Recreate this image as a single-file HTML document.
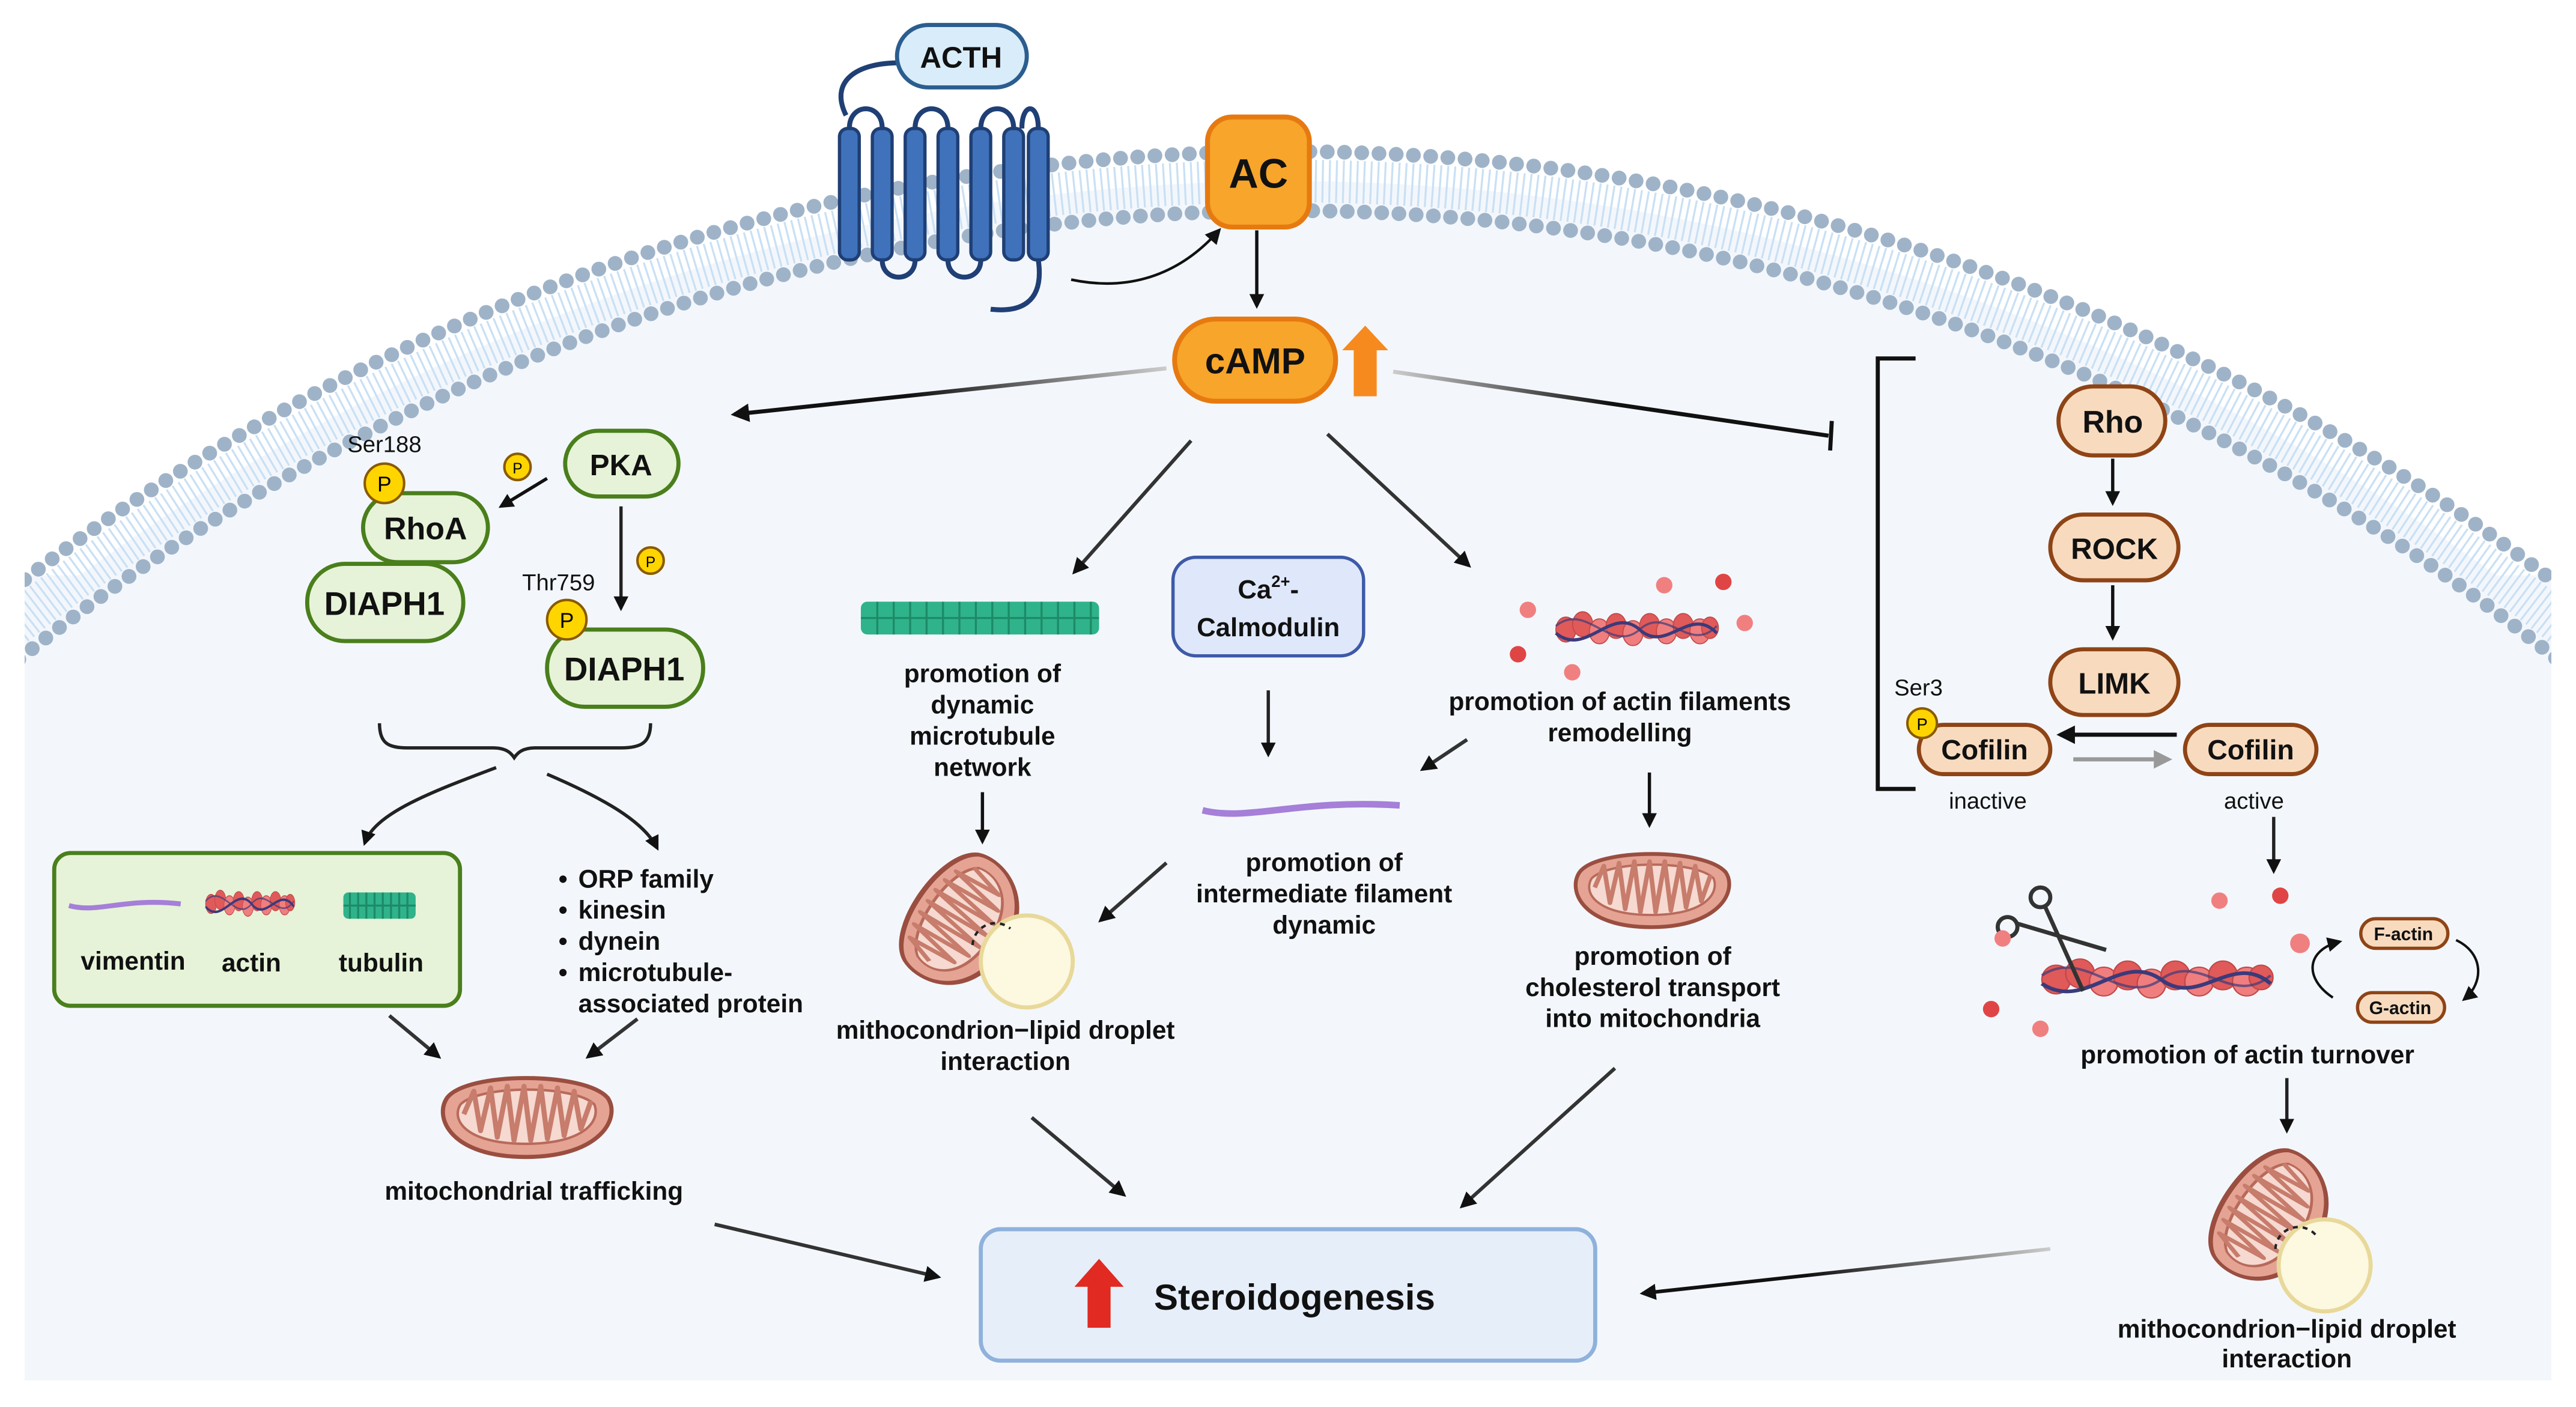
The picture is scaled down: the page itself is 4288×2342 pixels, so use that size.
<!DOCTYPE html>
<html><head><meta charset="utf-8"><style>
html,body{margin:0;padding:0;background:#fff;width:4288px;height:2342px;overflow:hidden;}
svg{display:block;}
text{font-family:"Liberation Sans",Arial,sans-serif;}
.b{font-weight:bold;fill:#111;}
</style></head><body>
<svg width="4288" height="2342" viewBox="0 0 1568 856" xmlns="http://www.w3.org/2000/svg">
<defs>
<clipPath id="cl"><rect x="15" y="0" width="1538" height="840"/></clipPath>
<marker id="ah" viewBox="0 0 10 10" refX="8" refY="5" markerWidth="4.5" markerHeight="4.5" orient="auto-start-reverse"><path d="M0,0 L10,5 L0,10 z" fill="#111"/></marker>
<marker id="ahg" viewBox="0 0 10 10" refX="8" refY="5" markerWidth="4.5" markerHeight="4.5" orient="auto"><path d="M0,0 L10,5 L0,10 z" fill="#999"/></marker>
<marker id="ahs" viewBox="0 0 10 10" refX="8" refY="5" markerWidth="6" markerHeight="6" orient="auto"><path d="M0,0 L10,5 L0,10 z" fill="#111"/></marker>
<symbol id="mito" viewBox="0 0 110 56" preserveAspectRatio="none">
<path d="M8,18 C20,2 90,2 104,18 C112,30 100,54 55,54 C10,54 0,30 8,18z" fill="#e5a394" stroke="#9a4e40" stroke-width="2.5"/>
<path d="M16,22 C28,10 84,10 96,22 C100,32 90,46 55,46 C20,46 10,32 16,22z" fill="#f6d9d0" stroke="#b86a5a" stroke-width="1.5"/>
<path d="M18,28 L24,14 L28,38 L34,12 L38,42 L44,11 L48,44 L54,11 L58,44 L64,11 L68,43 L74,12 L78,41 L84,14 L88,37 L94,20" fill="none" stroke="#c77c6c" stroke-width="3" stroke-linejoin="round"/>
</symbol>
<symbol id="actin" viewBox="0 0 100 24" preserveAspectRatio="none">
<g fill="#e05a5a" stroke="#c24848" stroke-width="0.6">
<ellipse cx="8" cy="12" rx="6" ry="7"/><ellipse cx="18" cy="9" rx="6" ry="7"/><ellipse cx="28" cy="13" rx="6" ry="7" fill="#f07e7e"/><ellipse cx="38" cy="10" rx="6" ry="7"/><ellipse cx="48" cy="14" rx="6" ry="7" fill="#f07e7e"/><ellipse cx="58" cy="10" rx="6" ry="7"/><ellipse cx="68" cy="13" rx="6" ry="7" fill="#f07e7e"/><ellipse cx="78" cy="10" rx="6" ry="7"/><ellipse cx="88" cy="13" rx="6" ry="7" fill="#f07e7e"/><ellipse cx="94" cy="11" rx="5" ry="6"/>
</g>
<path d="M2,14 C20,28 35,-2 52,12 C68,26 82,-2 98,14" fill="none" stroke="#3b3a7a" stroke-width="1.8"/>
<path d="M2,10 C20,-4 35,26 52,12 C68,-2 82,26 98,10" fill="none" stroke="#3b3a7a" stroke-width="1.2" opacity="0.7"/>
</symbol>
<linearGradient id="gl" x1="1" y1="0" x2="0" y2="0"><stop offset="0" stop-color="#ccc"/><stop offset="0.6" stop-color="#111"/></linearGradient>
<linearGradient id="gr" x1="0" y1="0" x2="1" y2="0"><stop offset="0" stop-color="#ccc"/><stop offset="0.5" stop-color="#111"/></linearGradient>
</defs>

<g clip-path="url(#cl)">
<circle cx="784" cy="1357" r="1247" fill="#f3f7fc"/>
<rect x="15" y="350" width="1538" height="490" fill="#f3f7fc"/>
<circle cx="784" cy="1357" r="1247" fill="none" stroke="#c9e0f4" stroke-width="26" stroke-dasharray="1.2 3"/>
<circle cx="784" cy="1357" r="1265" fill="none" stroke="#9fb3c8" stroke-width="9" stroke-dasharray="0 10.5" stroke-linecap="round"/>
<circle cx="784" cy="1357" r="1229" fill="none" stroke="#9fb3c8" stroke-width="9" stroke-dasharray="0 10.5" stroke-linecap="round"/>
</g>

<path d="M548,38 C520,38 505,50 515,70" fill="none" stroke="#1f3f75" stroke-width="3"/>
<g fill="#3f72bb" stroke="#1f3f75" stroke-width="2">
<rect x="511" y="78" width="12" height="80" rx="5"/>
<rect x="531" y="78" width="12" height="80" rx="5"/>
<rect x="551" y="78" width="12" height="80" rx="5"/>
<rect x="571" y="78" width="12" height="80" rx="5"/>
<rect x="591" y="78" width="12" height="80" rx="5"/>
<rect x="611" y="78" width="12" height="80" rx="5"/>
<rect x="626" y="78" width="12" height="80" rx="5"/>
</g>
<g fill="none" stroke="#1f3f75" stroke-width="3">
<path d="M517,78 C517,62 537,62 537,78"/><path d="M557,78 C557,62 577,62 577,78"/><path d="M597,78 C597,62 617,62 617,78"/><path d="M622,78 C622,62 632,62 632,78"/>
<path d="M537,158 C537,172 557,172 557,158"/><path d="M577,158 C577,172 597,172 597,158"/>
<path d="M632,158 C636,185 620,190 603,188"/>
</g>
<path d="M652,170 C690,178 720,165 742,140" fill="none" stroke="#111" stroke-width="1.6" marker-end="url(#ahs)"/>
<rect x="546" y="15" width="79" height="38" rx="19" fill="#d9ecfa" stroke="#2b5d8f" stroke-width="2.5"/>
<text x="585" y="41" class="b" font-size="18" text-anchor="middle">ACTH</text>

<rect x="735" y="71" width="62" height="67" rx="15" fill="#f7a52b" stroke="#e67a10" stroke-width="3"/>
<text x="766" y="114" class="b" font-size="25" text-anchor="middle">AC</text>
<line x1="765" y1="140" x2="765" y2="186" stroke="#111" stroke-width="2" marker-end="url(#ah)"/>
<rect x="715" y="194" width="98" height="50" rx="25" fill="#f7a52b" stroke="#e67a10" stroke-width="3"/>
<text x="764" y="227" class="b" font-size="22" text-anchor="middle">cAMP</text>
<path d="M831,198 L845,213 L838,213 L838,241 L824,241 L824,213 L817,213 z" fill="#f68a1e"/>

<line x1="710" y1="224" x2="447" y2="252" stroke="url(#gl)" stroke-width="2.5" marker-end="url(#ah)"/>
<line x1="848" y1="226" x2="1113" y2="265" stroke="url(#gr)" stroke-width="2.5"/>
<line x1="1115" y1="256" x2="1114" y2="274" stroke="#111" stroke-width="2.5"/>
<line x1="725" y1="268" x2="654" y2="348" stroke="#333" stroke-width="2.2" marker-end="url(#ah)"/>
<line x1="808" y1="264" x2="894" y2="344" stroke="#333" stroke-width="2.2" marker-end="url(#ah)"/>

<path d="M1166,218 L1143,218 L1143,480 L1166,480" fill="none" stroke="#111" stroke-width="2.5"/>
<g fill="#f8dbbf" stroke="#8f4416" stroke-width="2.5">
<rect x="1253" y="235" width="65" height="42" rx="21"/>
<rect x="1248" y="313" width="78" height="40" rx="20"/>
<rect x="1248" y="395" width="78" height="40" rx="20"/>
<rect x="1168" y="441" width="80" height="30" rx="15"/>
<rect x="1330" y="441" width="80" height="30" rx="15"/>
</g>
<text x="1286" y="263" class="b" font-size="19" text-anchor="middle">Rho</text>
<text x="1287" y="340" class="b" font-size="18" text-anchor="middle">ROCK</text>
<text x="1287" y="422" class="b" font-size="18" text-anchor="middle">LIMK</text>
<text x="1208" y="462" class="b" font-size="17" text-anchor="middle">Cofilin</text>
<text x="1370" y="462" class="b" font-size="17" text-anchor="middle">Cofilin</text>
<circle cx="1170" cy="440" r="9" fill="#ffd500" stroke="#8a5a00" stroke-width="1.5"/>
<text x="1170" y="444" font-size="10" text-anchor="middle">P</text>
<text x="1153" y="423" font-size="14" fill="#111">Ser3</text>
<text x="1210" y="492" font-size="14" fill="#111" text-anchor="middle">inactive</text>
<text x="1372" y="492" font-size="14" fill="#111" text-anchor="middle">active</text>
<line x1="1286" y1="279" x2="1286" y2="306" stroke="#111" stroke-width="2" marker-end="url(#ah)"/>
<line x1="1286" y1="356" x2="1286" y2="388" stroke="#111" stroke-width="2" marker-end="url(#ah)"/>
<line x1="1325" y1="447" x2="1254" y2="447" stroke="#111" stroke-width="2.5" marker-end="url(#ah)"/>
<line x1="1262" y1="462" x2="1320" y2="462" stroke="#999" stroke-width="2.5" marker-end="url(#ahg)"/>
<line x1="1384" y1="497" x2="1384" y2="530" stroke="#222" stroke-width="2" marker-end="url(#ah)"/>

<use href="#actin" x="1240" y="581" width="145" height="30"/>
<g fill="none" stroke="#333" stroke-width="2.5">
<circle cx="1242" cy="546" r="6"/><circle cx="1222" cy="564" r="6"/>
<path d="M1245,552 L1268,603"/><path d="M1228,562 L1282,578"/>
</g>
<g fill="#f08080">
<circle cx="1351" cy="548" r="5"/><circle cx="1388" cy="545" r="5" fill="#e04545"/><circle cx="1400" cy="574" r="6"/><circle cx="1219" cy="571" r="5"/><circle cx="1212" cy="614" r="5" fill="#e04545"/><circle cx="1242" cy="626" r="5"/>
</g>
<rect x="1437" y="559" width="53" height="18" rx="9" fill="#f8dbbf" stroke="#8f4416" stroke-width="2"/>
<text x="1463" y="572" class="b" font-size="11" text-anchor="middle">F-actin</text>
<rect x="1435" y="604" width="53" height="18" rx="9" fill="#f8dbbf" stroke="#8f4416" stroke-width="2"/>
<text x="1461" y="617" class="b" font-size="11" text-anchor="middle">G-actin</text>
<path d="M1420,607 C1402,595 1404,578 1424,573" fill="none" stroke="#111" stroke-width="1.5" marker-end="url(#ahs)"/>
<path d="M1495,572 C1512,580 1512,598 1500,608" fill="none" stroke="#111" stroke-width="1.5" marker-end="url(#ahs)"/>
<text x="1368" y="647" class="b" font-size="15.5" text-anchor="middle">promotion of actin turnover</text>
<line x1="1392" y1="656" x2="1392" y2="688" stroke="#222" stroke-width="2" marker-end="url(#ah)"/>
<use href="#mito" x="1335" y="705" width="90" height="70" transform="rotate(-55 1380 740)"/>
<circle cx="1415" cy="770" r="28" fill="#fdf8e0" stroke="#e8d99a" stroke-width="2.5"/>
<path d="M1385,760 A14,14 0 0 1 1410,752" fill="none" stroke="#222" stroke-width="1.5" stroke-dasharray="3 3"/>
<text x="1392" y="814" class="b" font-size="15.5" text-anchor="middle">mithocondrion−lipid droplet</text>
<text x="1392" y="832" class="b" font-size="15.5" text-anchor="middle">interaction</text>

<rect x="597" y="748" width="374" height="80" rx="12" fill="#e6eef9" stroke="#8fb1dc" stroke-width="2.5"/>
<path d="M669,766 L684,783 L676,783 L676,808 L662,808 L662,783 L654,783 z" fill="#e02a22"/>
<text x="788" y="797" class="b" font-size="22" text-anchor="middle">Steroidogenesis</text>
<line x1="1248" y1="760" x2="1000" y2="787" stroke="url(#gl)" stroke-width="2.2" marker-end="url(#ah)"/>
<line x1="435" y1="745" x2="571" y2="777" stroke="#333" stroke-width="2.2" marker-end="url(#ah)"/>
<line x1="628" y1="680" x2="684" y2="727" stroke="#333" stroke-width="2.2" marker-end="url(#ah)"/>
<line x1="983" y1="650" x2="890" y2="734" stroke="#333" stroke-width="2.2" marker-end="url(#ah)"/>

<g fill="#e6f3d8" stroke="#4a7f1c" stroke-width="2.5">
<rect x="344" y="262" width="69" height="40" rx="20"/>
<rect x="221" y="300" width="76" height="42" rx="21"/>
<rect x="187" y="343" width="95" height="47" rx="23"/>
<rect x="333" y="383" width="95" height="47" rx="23"/>
</g>
<text x="378" y="289" class="b" font-size="18" text-anchor="middle">PKA</text>
<text x="259" y="328" class="b" font-size="19" text-anchor="middle">RhoA</text>
<text x="234" y="374" class="b" font-size="20" text-anchor="middle">DIAPH1</text>
<text x="380" y="414" class="b" font-size="20" text-anchor="middle">DIAPH1</text>
<text x="234" y="275" font-size="14" fill="#111" text-anchor="middle">Ser188</text>
<text x="340" y="359" font-size="14" fill="#111" text-anchor="middle">Thr759</text>
<g fill="#ffd500" stroke="#8a5a00" stroke-width="1.5">
<circle cx="234" cy="294" r="12"/><circle cx="345" cy="377" r="12"/><circle cx="315" cy="284" r="8"/><circle cx="396" cy="341" r="8"/>
</g>
<text x="234" y="299" font-size="13" text-anchor="middle">P</text>
<text x="345" y="382" font-size="13" text-anchor="middle">P</text>
<text x="315" y="288" font-size="9" text-anchor="middle">P</text>
<text x="396" y="345" font-size="9" text-anchor="middle">P</text>
<line x1="333" y1="291" x2="305" y2="308" stroke="#111" stroke-width="2" marker-end="url(#ah)"/>
<line x1="378" y1="308" x2="378" y2="370" stroke="#222" stroke-width="2" marker-end="url(#ah)"/>
<path d="M231,440 C231,452 236,455 248,455 L300,455 C308,455 311,458 313,461 C315,458 318,455 326,455 L378,455 C390,455 396,452 396,440" fill="none" stroke="#222" stroke-width="2"/>
<path d="M302,467 C262,482 228,495 222,513" fill="none" stroke="#222" stroke-width="2" marker-end="url(#ah)"/>
<path d="M333,471 C368,486 392,500 400,516" fill="none" stroke="#222" stroke-width="2" marker-end="url(#ah)"/>

<rect x="33" y="519" width="247" height="93" rx="10" fill="#e6f3d8" stroke="#4a7f1c" stroke-width="2.5"/>
<path d="M42,551 C60,556 75,546 110,550" fill="none" stroke="#a57fd8" stroke-width="3"/>
<use href="#actin" x="124" y="540" width="56" height="20"/>
<rect x="209" y="543" width="44" height="16" rx="3" fill="#2fb38a"/>
<g stroke="#1d8a66" stroke-width="1.2"><path d="M213,543 v16 M218,543 v16 M223,543 v16 M228,543 v16 M233,543 v16 M238,543 v16 M243,543 v16 M248,543 v16 M209,551 h44"/></g>
<text x="81" y="590" class="b" font-size="15.5" text-anchor="middle">vimentin</text>
<text x="153" y="591" class="b" font-size="15.5" text-anchor="middle">actin</text>
<text x="232" y="591" class="b" font-size="15.5" text-anchor="middle">tubulin</text>

<g class="b" font-size="15.5">
<text x="340" y="540">•</text><text x="352" y="540">ORP family</text>
<text x="340" y="559">•</text><text x="352" y="559">kinesin</text>
<text x="340" y="578">•</text><text x="352" y="578">dynein</text>
<text x="340" y="597">•</text><text x="352" y="597">microtubule-</text>
<text x="352" y="616">associated protein</text>
</g>
<line x1="237" y1="618" x2="267" y2="643" stroke="#333" stroke-width="2.2" marker-end="url(#ah)"/>
<line x1="388" y1="620" x2="358" y2="643" stroke="#333" stroke-width="2.2" marker-end="url(#ah)"/>
<use href="#mito" x="264" y="650" width="112" height="56"/>
<text x="325" y="730" class="b" font-size="15.5" text-anchor="middle">mitochondrial trafficking</text>

<rect x="524" y="366" width="145" height="20" rx="4" fill="#2fb38a"/>
<g stroke="#1d8a66" stroke-width="1.2"><path d="M524,376 h145 M534,366 v20 M544,366 v20 M554,366 v20 M564,366 v20 M574,366 v20 M584,366 v20 M594,366 v20 M604,366 v20 M614,366 v20 M624,366 v20 M634,366 v20 M644,366 v20 M654,366 v20 M664,366 v20"/></g>
<g class="b" font-size="15.5" text-anchor="middle">
<text x="598" y="415">promotion of</text><text x="598" y="434">dynamic</text><text x="598" y="453">microtubule</text><text x="598" y="472">network</text>
</g>
<line x1="598" y1="482" x2="598" y2="512" stroke="#111" stroke-width="2" marker-end="url(#ah)"/>
<use href="#mito" x="538" y="525" width="90" height="70" transform="rotate(-55 583 560)"/>
<circle cx="625" cy="585" r="28" fill="#fdf8e0" stroke="#e8d99a" stroke-width="2.5"/>
<path d="M592,575 A14,14 0 0 1 615,565" fill="none" stroke="#222" stroke-width="1.5" stroke-dasharray="3 3"/>
<text x="612" y="632" class="b" font-size="15.5" text-anchor="middle">mithocondrion−lipid droplet</text>
<text x="612" y="651" class="b" font-size="15.5" text-anchor="middle">interaction</text>

<rect x="714" y="339" width="116" height="60" rx="14" fill="#dfe8fa" stroke="#3e5aa8" stroke-width="2"/>
<text x="772" y="364" class="b" font-size="16" text-anchor="middle">Ca<tspan font-size="10" dy="-7">2+</tspan><tspan dy="7">-</tspan></text>
<text x="772" y="387" class="b" font-size="16" text-anchor="middle">Calmodulin</text>
<line x1="772" y1="420" x2="772" y2="459" stroke="#222" stroke-width="2" marker-end="url(#ah)"/>
<path d="M732,493 C760,500 790,486 852,490" fill="none" stroke="#a57fd8" stroke-width="4"/>
<g class="b" font-size="15.5" text-anchor="middle">
<text x="806" y="530">promotion of</text><text x="806" y="549">intermediate filament</text><text x="806" y="568">dynamic</text>
</g>
<line x1="710" y1="525" x2="670" y2="560" stroke="#333" stroke-width="2.2" marker-end="url(#ah)"/>

<use href="#actin" x="945" y="370" width="102" height="26"/>
<g fill="#f08080">
<circle cx="1013" cy="356" r="5"/><circle cx="1049" cy="354" r="5" fill="#e04545"/><circle cx="1062" cy="379" r="5"/><circle cx="930" cy="371" r="5"/><circle cx="924" cy="398" r="5" fill="#e04545"/><circle cx="957" cy="409" r="5"/>
</g>
<text x="986" y="432" class="b" font-size="15.5" text-anchor="middle">promotion of actin filaments</text>
<text x="986" y="451" class="b" font-size="15.5" text-anchor="middle">remodelling</text>
<line x1="893" y1="450" x2="866" y2="468" stroke="#333" stroke-width="2.2" marker-end="url(#ah)"/>
<line x1="1004" y1="470" x2="1004" y2="502" stroke="#111" stroke-width="2" marker-end="url(#ah)"/>
<use href="#mito" x="954" y="514" width="102" height="52"/>
<g class="b" font-size="15.5" text-anchor="middle">
<text x="1006" y="587">promotion of</text><text x="1006" y="606">cholesterol transport</text><text x="1006" y="625">into mitochondria</text>
</g>
</svg>
</body></html>
